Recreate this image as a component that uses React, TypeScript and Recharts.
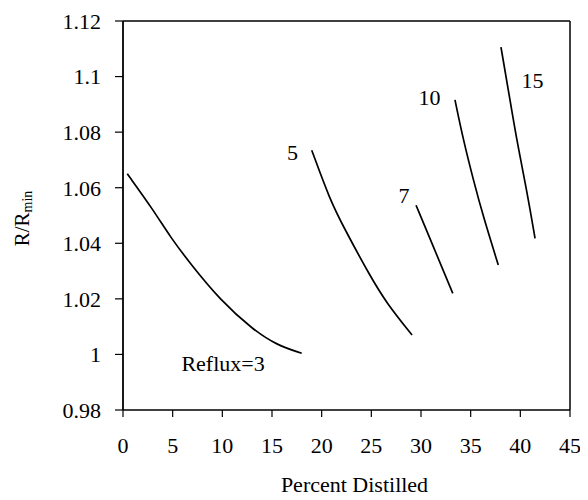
import React from "react";
import { LineChart, Line, XAxis, YAxis, ReferenceLine, ReferenceDot } from "recharts";

const xTicks = [0, 5, 10, 15, 20, 25, 30, 35, 40, 45];
const yTicks = [0.98, 1, 1.02, 1.04, 1.06, 1.08, 1.1, 1.12];

const reflux3 = [
  { x: 0.43, y: 1.065 },
  { x: 3.05, y: 1.052 },
  { x: 4.73, y: 1.0424 },
  { x: 6.75, y: 1.0328 },
  { x: 9.77, y: 1.0196 },
  { x: 13.12, y: 1.0088 },
  { x: 15.47, y: 1.0034 },
  { x: 17.99, y: 1.0004 },
];
const reflux5 = [
  { x: 19.0, y: 1.0735 },
  { x: 20.85, y: 1.0555 },
  { x: 22.2, y: 1.0459 },
  { x: 24.9, y: 1.028 },
  { x: 26.55, y: 1.0184 },
  { x: 29.1, y: 1.007 },
];
const reflux7 = [
  { x: 29.5, y: 1.0537 },
  { x: 31.25, y: 1.0387 },
  { x: 33.2, y: 1.022 },
];
const reflux10 = [
  { x: 33.42, y: 1.0916 },
  { x: 34.26, y: 1.0772 },
  { x: 35.27, y: 1.0628 },
  { x: 36.27, y: 1.0496 },
  { x: 37.78, y: 1.0322 },
];
const reflux15 = [
  { x: 38.05, y: 1.1106 },
  { x: 38.79, y: 1.0952 },
  { x: 39.63, y: 1.0772 },
  { x: 40.64, y: 1.0592 },
  { x: 41.48, y: 1.0418 },
];

const annotations = [
  { x: 17.06, y: 1.0727, text: "5" },
  { x: 28.29, y: 1.0572, text: "7" },
  { x: 30.86, y: 1.0925, text: "10" },
  { x: 41.23, y: 1.0987, text: "15" },
  { x: 10.07, y: 0.9966, text: "Reflux=3" },
];

const series = [reflux3, reflux5, reflux7, reflux10, reflux15];

const FONT = "Liberation Serif";

export default function App() {
  return (
    <div style={{ width: 580, height: 492 }}>
      <LineChart
        width={580}
        height={492}
        margin={{ top: 13, right: 18, left: 35, bottom: 30 }}
        style={{ fontFamily: FONT }}
      >
        <XAxis
          type="number"
          dataKey="x"
          domain={[0, 45]}
          ticks={xTicks}
          interval={0}
          allowDataOverflow
          height={60}
          tickSize={7}
          tickMargin={20}
          axisLine={{ stroke: "#000", strokeWidth: 1.5 }}
          tickLine={{ stroke: "#000", strokeWidth: 1.2 }}
          tick={{ fill: "#000", fontSize: 22, fontFamily: FONT }}
          label={{
            content: (props: any) => {
              const vb = props.viewBox || {};
              return (
                <text
                  x={vb.x + vb.width / 2 + 8}
                  y={vb.y + 82}
                  textAnchor="middle"
                  fill="#000"
                  fontSize={22}
                  fontFamily={FONT}
                >
                  Percent Distilled
                </text>
              );
            },
          }}
        />
        <YAxis
          type="number"
          dataKey="y"
          domain={[0.98, 1.12]}
          ticks={yTicks}
          interval={0}
          allowDataOverflow
          width={80}
          tickSize={8}
          tickMargin={14}
          axisLine={{ stroke: "#000", strokeWidth: 1.8 }}
          tickLine={{ stroke: "#000", strokeWidth: 1.2 }}
          tick={{ fill: "#000", fontSize: 22, fontFamily: FONT }}
          label={{
            content: (props: any) => {
              const vb = props.viewBox || {};
              const cx = vb.x - 21;
              const cy = vb.y + vb.height / 2 + 3;
              return (
                <text
                  x={cx}
                  y={cy}
                  transform={`rotate(-90, ${cx}, ${cy})`}
                  textAnchor="middle"
                  dominantBaseline="central"
                  fill="#000"
                  fontSize={21}
                  fontFamily={FONT}
                >
                  R/R
                  <tspan fontSize={14} dy={5}>
                    min
                  </tspan>
                </text>
              );
            },
          }}
        />
        <ReferenceLine y={1.12} stroke="#000" strokeWidth={1.5} />
        <ReferenceLine x={45} stroke="#000" strokeWidth={1.5} />
        {series.map((d, i) => (
          <Line
            key={i}
            data={d}
            dataKey="y"
            type="basis"
            stroke="#000"
            strokeWidth={1.7}
            dot={false}
            activeDot={false}
            isAnimationActive={false}
          />
        ))}
        {annotations.map((a, i) => (
          <ReferenceDot
            key={"a" + i}
            x={a.x}
            y={a.y}
            r={0}
            stroke="none"
            fill="none"
            label={{
              content: (props: any) => {
                const vb = props.viewBox || {};
                const cx = vb.x + (vb.width || 0) / 2;
                const cy = vb.y + (vb.height || 0) / 2;
                return (
                  <text
                    x={cx}
                    y={cy}
                    textAnchor="middle"
                    dominantBaseline="central"
                    fill="#000"
                    fontSize={22}
                    fontFamily={FONT}
                  >
                    {a.text}
                  </text>
                );
              },
            }}
          />
        ))}
      </LineChart>
    </div>
  );
}
